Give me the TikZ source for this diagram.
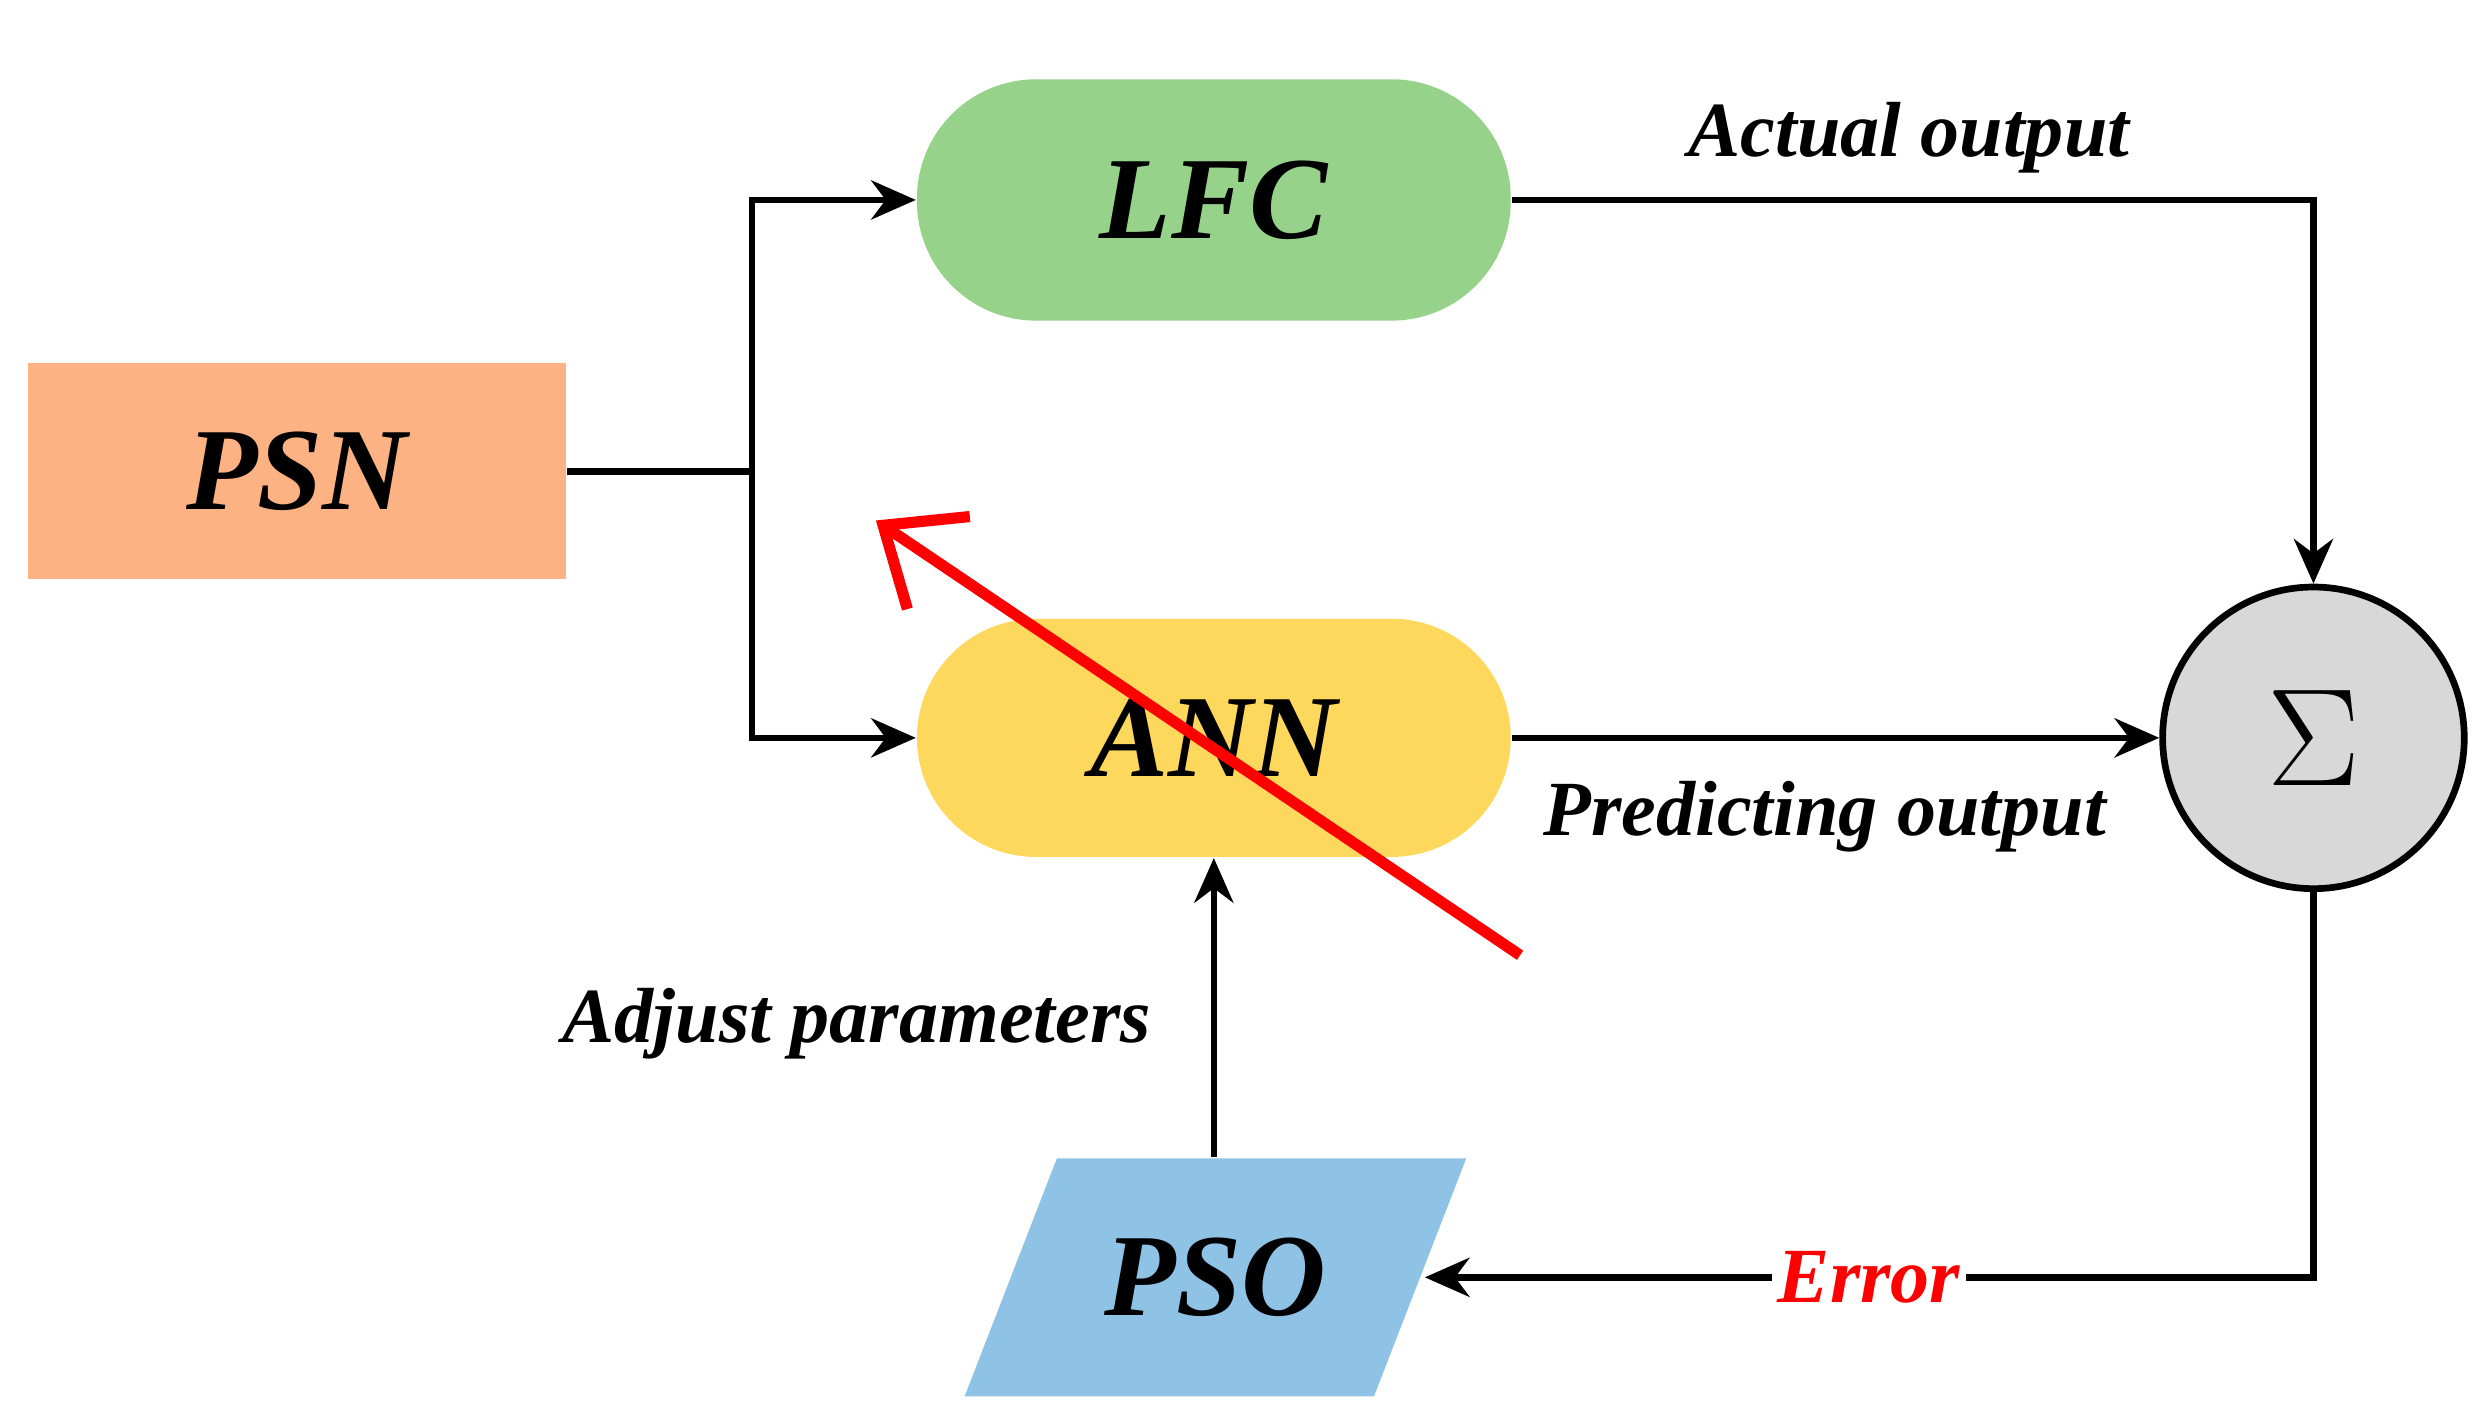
\documentclass[tikz,border=0pt]{standalone}
\usepackage{fontspec}
\setmainfont{Liberation Serif}
\usetikzlibrary{arrows.meta,shapes.geometric}
\begin{document}
\begin{tikzpicture}[x=0.01cm,y=-0.01cm,
  ln/.style={line width=1.2pt,-{Stealth[length=8pt,width=7pt]}},
  pl/.style={line width=1.2pt},
  big/.style={font=\fontsize{21}{25}\selectfont\bfseries\itshape},
  lab/.style={font=\fontsize{14}{16}\selectfont\bfseries\itshape}]
\useasboundingbox (0,0) rectangle (1568,899);
\node[fill={rgb,255:red,252;green,178;blue,130}, minimum width=3.39cm, minimum height=1.36cm, big] (psn) at (187,297) {PSN};
\node[fill={rgb,255:red,151;green,210;blue,138}, rounded corners=0.75cm, minimum width=3.74cm, minimum height=1.52cm, big] (lfc) at (765,126) {LFC};
\node[fill={rgb,255:red,254;green,216;blue,92}, rounded corners=0.75cm, minimum width=3.74cm, minimum height=1.5cm, big] (ann) at (765,465) {ANN};
\node[circle, draw, line width=1.2pt, fill={rgb,255:red,216;green,216;blue,216}, minimum size=1.9cm, inner sep=0pt, font=\fontsize{44}{48}\selectfont] (sig) at (1458,465) {$\Sigma$};
\node[trapezium, trapezium stretches=true, trapezium left angle=57, trapezium right angle=123, fill={rgb,255:red,142;green,195;blue,230}, minimum width=3.17cm, minimum height=1.5cm, big] (pso) at (766,805) {PSO};
\coordinate (j) at (474,297);
\draw[pl] (psn.east) -- (j);
\draw[ln] (j) |- (lfc.west);
\draw[ln] (j) |- (ann.west);
\draw[ln] (lfc.east) -| (sig.north);
\draw[ln] (ann.east) -- (sig.west);
\draw[ln] (sig.south) |- (898,805);
\draw[ln] (pso.north -| ann.south) -- (ann.south);
\node[lab, text=red, fill=white, inner sep=1pt] (err) at (1178,805) {Error};
\node[lab] (ao) at (1203,87) {Actual output};
\node[lab] (po) at (1150,515) {Predicting output};
\node[lab] (ap) at (540,645) {Adjust parameters};
\coordinate (r1) at (958,602);
\coordinate (r2) at (552,328);
\draw[red, line width=2pt, -{Straight Barb[length=12pt,width=20pt,line width=2pt]}] (r1) -- (r2);
\end{tikzpicture}
\end{document}
